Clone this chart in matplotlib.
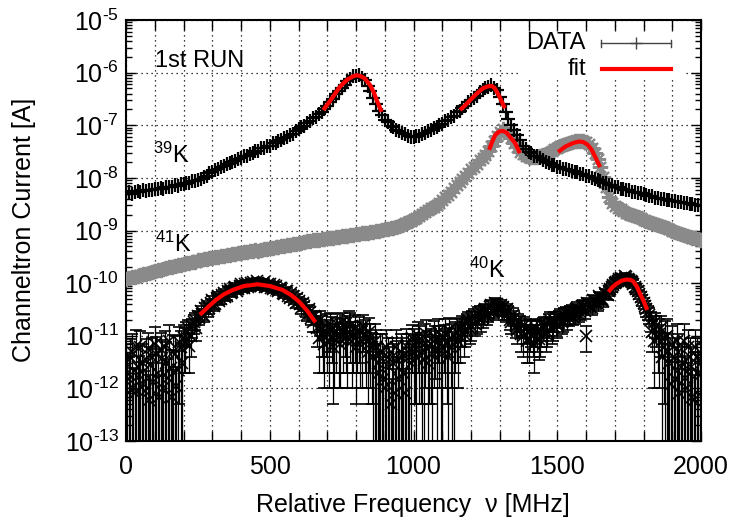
import math
import matplotlib
matplotlib.use('Agg')
import matplotlib.pyplot as plt
from matplotlib.ticker import MultipleLocator, LogLocator, NullFormatter, FuncFormatter
from matplotlib.patches import Rectangle

plt.rcParams['font.family'] = ['Liberation Sans', 'DejaVu Sans']
plt.rcParams['mathtext.fontset'] = 'custom'
plt.rcParams['mathtext.rm'] = 'Liberation Sans'
plt.rcParams['mathtext.it'] = 'Liberation Sans:italic'
plt.rcParams['mathtext.bf'] = 'Liberation Sans:bold'

# ---------------- data ----------------
freq = [0, 10, 20, 30, 40, 50, 60, 70, 80, 90,
        100, 110, 120, 130, 140, 150, 160, 170, 180, 190,
        200, 210, 220, 230, 240, 250, 260, 270, 280, 290,
        300, 310, 320, 330, 340, 350, 360, 370, 380, 390,
        400, 410, 420, 430, 440, 450, 460, 470, 480, 490,
        500, 510, 520, 530, 540, 550, 560, 570, 580, 590,
        600, 610, 620, 630, 640, 650, 660, 670, 680, 690,
        700, 710, 720, 730, 740, 750, 760, 770, 780, 790,
        800, 810, 820, 830, 840, 850, 860, 870, 880, 890,
        900, 910, 920, 930, 940, 950, 960, 970, 980, 990,
        1000, 1010, 1020, 1030, 1040, 1050, 1060, 1070, 1080, 1090,
        1100, 1110, 1120, 1130, 1140, 1150, 1160, 1170, 1180, 1190,
        1200, 1210, 1220, 1230, 1240, 1250, 1260, 1270, 1280, 1290,
        1300, 1310, 1320, 1330, 1340, 1350, 1360, 1370, 1380, 1390,
        1400, 1410, 1420, 1430, 1440, 1450, 1460, 1470, 1480, 1490,
        1500, 1510, 1520, 1530, 1540, 1550, 1560, 1570, 1580, 1590,
        1600, 1610, 1620, 1630, 1640, 1650, 1660, 1670, 1680, 1690,
        1700, 1710, 1720, 1730, 1740, 1750, 1760, 1770, 1780, 1790,
        1800, 1810, 1820, 1830, 1840, 1850, 1860, 1870, 1880, 1890,
        1900, 1910, 1920, 1930, 1940, 1950, 1960, 1970, 1980, 1990,
        2000]

k39 = [5.1e-9, 5.3e-9, 5.0e-9, 5.4e-9, 5.6e-9, 5.4e-9, 5.8e-9, 5.6e-9, 6.0e-9, 5.9e-9,
       6.1e-9, 6.1e-9, 6.4e-9, 6.2e-9, 6.6e-9, 6.7e-9, 6.8e-9, 7.2e-9, 7.1e-9, 7.5e-9,
       7.5e-9, 8.0e-9, 8.0e-9, 8.6e-9, 8.8e-9, 9.3e-9, 9.4e-9, 1.04e-8, 1.10e-8, 1.22e-8,
       1.27e-8, 1.40e-8, 1.46e-8, 1.61e-8, 1.67e-8, 1.85e-8, 1.89e-8, 2.04e-8, 2.10e-8, 2.28e-8,
       2.36e-8, 2.55e-8, 2.64e-8, 2.88e-8, 2.96e-8, 3.22e-8, 3.25e-8, 3.62e-8, 3.65e-8, 4.06e-8,
       4.10e-8, 4.55e-8, 4.60e-8, 5.10e-8, 5.28e-8, 5.85e-8, 5.93e-8, 6.58e-8, 6.95e-8, 7.90e-8,
       8.35e-8, 9.30e-8, 9.85e-8, 1.12e-7, 1.18e-7, 1.37e-7, 1.45e-7, 1.65e-7, 1.79e-7, 2.04e-7,
       2.30e-7, 2.80e-7, 3.18e-7, 3.87e-7, 4.40e-7, 5.20e-7, 5.80e-7, 6.85e-7, 7.45e-7, 8.45e-7,
       8.80e-7, 8.85e-7, 7.85e-7, 7.15e-7, 5.65e-7, 4.55e-7, 3.33e-7, 2.56e-7, 1.88e-7, 1.54e-7,
       1.24e-7, 1.14e-7, 9.85e-8, 9.45e-8, 8.20e-8, 7.70e-8, 6.98e-8, 6.70e-8, 6.22e-8, 6.10e-8,
       5.95e-8, 6.25e-8, 6.38e-8, 6.85e-8, 7.14e-8, 7.70e-8, 8.02e-8, 8.82e-8, 9.20e-8, 1.01e-7,
       1.06e-7, 1.19e-7, 1.27e-7, 1.43e-7, 1.53e-7, 1.76e-7, 1.89e-7, 2.17e-7, 2.37e-7, 2.73e-7,
       2.98e-7, 3.36e-7, 3.67e-7, 4.23e-7, 4.62e-7, 5.20e-7, 5.43e-7, 5.70e-7, 5.18e-7, 4.63e-7,
       3.50e-7, 2.55e-7, 1.80e-7, 1.34e-7, 9.90e-8, 8.05e-8, 6.52e-8, 5.32e-8, 4.12e-8, 3.60e-8,
       3.12e-8, 2.92e-8, 2.65e-8, 2.61e-8, 2.37e-8, 2.22e-8, 2.01e-8, 1.94e-8, 1.76e-8, 1.72e-8,
       1.60e-8, 1.60e-8, 1.49e-8, 1.47e-8, 1.39e-8, 1.37e-8, 1.27e-8, 1.28e-8, 1.18e-8, 1.17e-8,
       1.09e-8, 1.07e-8, 9.90e-9, 9.70e-9, 9.00e-9, 8.85e-9, 8.03e-9, 7.88e-9, 7.32e-9, 7.18e-9,
       6.68e-9, 6.70e-9, 6.24e-9, 6.26e-9, 5.82e-9, 5.84e-9, 5.44e-9, 5.45e-9, 5.07e-9, 5.08e-9,
       4.85e-9, 4.75e-9, 4.52e-9, 4.44e-9, 4.22e-9, 4.23e-9, 4.02e-9, 4.04e-9, 3.76e-9, 3.78e-9,
       3.59e-9, 3.60e-9, 3.43e-9, 3.44e-9, 3.27e-9, 3.29e-9, 3.13e-9, 3.14e-9, 2.99e-9, 2.99e-9,
       2.86e-9]

k41 = [1.20e-10, 1.24e-10, 1.28e-10, 1.33e-10, 1.37e-10, 1.42e-10, 1.47e-10, 1.52e-10, 1.57e-10, 1.63e-10,
       1.69e-10, 1.75e-10, 1.81e-10, 1.87e-10, 1.90e-10, 2.01e-10, 2.03e-10, 2.15e-10, 2.18e-10, 2.25e-10,
       2.33e-10, 2.41e-10, 2.44e-10, 2.52e-10, 2.56e-10, 2.70e-10, 2.74e-10, 2.83e-10, 2.87e-10, 2.96e-10,
       3.01e-10, 3.10e-10, 3.15e-10, 3.25e-10, 3.30e-10, 3.40e-10, 3.46e-10, 3.56e-10, 3.62e-10, 3.73e-10,
       3.79e-10, 3.90e-10, 3.88e-10, 3.99e-10, 4.06e-10, 4.18e-10, 4.16e-10, 4.28e-10, 4.36e-10, 4.48e-10,
       4.56e-10, 4.69e-10, 4.78e-10, 4.91e-10, 5.00e-10, 5.14e-10, 5.24e-10, 5.38e-10, 5.49e-10, 5.63e-10,
       5.74e-10, 5.90e-10, 6.02e-10, 6.18e-10, 6.30e-10, 6.47e-10, 6.60e-10, 6.71e-10, 6.75e-10, 6.93e-10,
       7.07e-10, 7.25e-10, 7.29e-10, 7.42e-10, 7.58e-10, 7.77e-10, 7.93e-10, 8.01e-10, 8.12e-10, 8.33e-10,
       8.50e-10, 8.72e-10, 8.79e-10, 8.92e-10, 9.11e-10, 9.34e-10, 9.54e-10, 9.78e-10, 9.99e-10, 1.02e-9,
       1.05e-9, 1.07e-9, 1.10e-9, 1.12e-9, 1.17e-9, 1.23e-9, 1.29e-9, 1.38e-9, 1.45e-9, 1.51e-9,
       1.62e-9, 1.74e-9, 1.91e-9, 2.09e-9, 2.24e-9, 2.40e-9, 2.63e-9, 2.82e-9, 3.09e-9, 3.39e-9,
       3.80e-9, 4.27e-9, 4.79e-9, 5.50e-9, 6.31e-9, 7.24e-9, 8.32e-9, 9.55e-9, 1.10e-8, 1.26e-8,
       1.45e-8, 1.62e-8, 1.86e-8, 2.14e-8, 2.40e-8, 2.75e-8, 3.24e-8, 3.98e-8, 5.01e-8, 6.31e-8,
       7.59e-8, 8.32e-8, 7.94e-8, 6.92e-8, 5.75e-8, 4.68e-8, 3.80e-8, 3.16e-8, 2.82e-8, 2.63e-8,
       2.51e-8, 2.45e-8, 2.45e-8, 2.51e-8, 2.57e-8, 2.69e-8, 2.82e-8, 3.02e-8, 3.24e-8, 3.47e-8,
       3.72e-8, 3.98e-8, 4.27e-8, 4.47e-8, 4.68e-8, 4.90e-8, 5.01e-8, 5.13e-8, 5.13e-8, 5.01e-8,
       4.79e-8, 4.37e-8, 3.72e-8, 3.02e-8, 2.29e-8, 1.58e-8, 1.05e-8, 6.61e-9, 4.37e-9, 3.31e-9,
       2.95e-9, 2.69e-9, 2.51e-9, 2.34e-9, 2.19e-9, 2.09e-9, 2.00e-9, 1.86e-9, 1.78e-9, 1.70e-9,
       1.58e-9, 1.51e-9, 1.45e-9, 1.38e-9, 1.32e-9, 1.26e-9, 1.20e-9, 1.15e-9, 1.10e-9, 1.05e-9,
       1.00e-9, 9.55e-10, 9.12e-10, 8.71e-10, 8.32e-10, 7.94e-10, 7.59e-10, 7.24e-10, 7.08e-10, 6.76e-10,
       6.61e-10]

k40 = [3.0e-12, 1.5e-12, 5.0e-12, 0.8e-12, 2.5e-12, 6.0e-12, 1.2e-12, 3.5e-12, 0.6e-12, 4.0e-12,
       7.0e-12, 2.0e-12, 5.5e-12, 1.0e-12, 3.0e-12, 8.0e-12, 0.7e-12, 4.5e-12, 2.2e-12, 6.0e-12,
       9.0e-12, 12e-12, 6.5e-12, 15e-12, 20e-12, 24e-12, 30e-12, 24e-12, 38e-12, 33e-12,
       48e-12, 40e-12, 58e-12, 50e-12, 66e-12, 58e-12, 78e-12, 68e-12, 86e-12, 76e-12,
       95e-12, 82e-12, 100e-12, 88e-12, 105e-12, 90e-12, 100e-12, 88e-12, 103e-12, 85e-12,
       95e-12, 78e-12, 90e-12, 70e-12, 80e-12, 62e-12, 70e-12, 52e-12, 58e-12, 42e-12,
       46e-12, 33e-12, 36e-12, 25e-12, 28e-12, 18e-12, 20e-12, 9e-12, 14e-12, 7e-12,
       11e-12, 16e-12, 6e-12, 12e-12, 9e-12, 18e-12, 14e-12, 8e-12, 15e-12, 10e-12,
       6e-12, 13e-12, 8e-12, 11e-12, 5e-12, 9e-12, 4e-12, 6e-12, 2e-12, 5e-12,
       1.0e-12, 4e-12, 0.5e-12, 3e-12, 6e-12, 1.5e-12, 4e-12, 0.8e-12, 5e-12, 3e-12,
       7e-12, 4e-12, 8e-12, 5e-12, 9e-12, 3e-12, 7e-12, 10e-12, 5e-12, 8e-12,
       6e-12, 11e-12, 4e-12, 9e-12, 7e-12, 12e-12, 10e-12, 16e-12, 13e-12, 20e-12,
       15e-12, 24e-12, 18e-12, 28e-12, 22e-12, 32e-12, 26e-12, 38e-12, 30e-12, 40e-12,
       32e-12, 35e-12, 25e-12, 28e-12, 18e-12, 22e-12, 13e-12, 17e-12, 10e-12, 14e-12,
       9e-12, 13e-12, 7e-12, 12e-12, 10e-12, 15e-12, 11e-12, 18e-12, 14e-12, 20e-12,
       16e-12, 24e-12, 19e-12, 27e-12, 22e-12, 30e-12, 25e-12, 34e-12, 28e-12, 37e-12,
       10e-12, 40e-12, 34e-12, 46e-12, 40e-12, 52e-12, 46e-12, 62e-12, 70e-12, 85e-12,
       100e-12, 110e-12, 125e-12, 118e-12, 130e-12, 115e-12, 105e-12, 85e-12, 70e-12, 55e-12,
       42e-12, 32e-12, 25e-12, 12e-12, 18e-12, 9e-12, 14e-12, 6e-12, 10e-12, 3e-12,
       7e-12, 1.5e-12, 5e-12, 2.5e-12, 8e-12, 1.0e-12, 4e-12, 0.7e-12, 6e-12, 2e-12,
       3e-12]

k40_err = [4.0e-12, 2.5e-12, 6.0e-12, 1.5e-12, 4.0e-12, 6.5e-12, 2.0e-12, 5.0e-12, 1.2e-12, 5.0e-12,
           7.5e-12, 3.5e-12, 6.0e-12, 2.0e-12, 4.5e-12, 8.0e-12, 1.5e-12, 5.5e-12, 3.0e-12, 6.5e-12,
           7.0e-12, 6.0e-12, 4.5e-12, 6.0e-12, 7.0e-12, 6.0e-12, 7e-12, 6e-12, 8e-12, 7e-12,
           9e-12, 8e-12, 10e-12, 9e-12, 11e-12, 10e-12, 12e-12, 11e-12, 13e-12, 12e-12,
           14e-12, 13e-12, 15e-12, 13e-12, 15e-12, 14e-12, 15e-12, 13e-12, 15e-12, 13e-12,
           14e-12, 12e-12, 14e-12, 11e-12, 12e-12, 10e-12, 11e-12, 9e-12, 10e-12, 8e-12,
           8e-12, 7e-12, 7e-12, 6e-12, 7e-12, 6e-12, 8e-12, 7e-12, 10e-12, 6e-12,
           9e-12, 11e-12, 5.5e-12, 10e-12, 8e-12, 9e-12, 10e-12, 7e-12, 12e-12, 8e-12,
           5.5e-12, 10e-12, 7e-12, 9e-12, 4.5e-12, 8e-12, 5e-12, 7e-12, 3e-12, 6e-12,
           2e-12, 5e-12, 1e-12, 4e-12, 7e-12, 2.5e-12, 5e-12, 1.5e-12, 6e-12, 4e-12,
           6.5e-12, 5e-12, 7.5e-12, 5.5e-12, 8e-12, 3.5e-12, 6.5e-12, 9e-12, 5e-12, 7e-12,
           6.5e-12, 10e-12, 4.5e-12, 8e-12, 7e-12, 9e-12, 7e-12, 8e-12, 7e-12, 8e-12,
           7e-12, 8e-12, 7e-12, 9e-12, 8e-12, 9e-12, 8e-12, 10e-12, 8e-12, 10e-12,
           8e-12, 9e-12, 7e-12, 8e-12, 7e-12, 7e-12, 6e-12, 7e-12, 6e-12, 7e-12,
           6e-12, 7e-12, 5e-12, 7e-12, 6e-12, 7e-12, 6e-12, 8e-12, 7e-12, 8e-12,
           7e-12, 8e-12, 7e-12, 8e-12, 7e-12, 9e-12, 8e-12, 9e-12, 8e-12, 10e-12,
           5e-12, 10e-12, 9e-12, 11e-12, 10e-12, 12e-12, 11e-12, 13e-12, 14e-12, 16e-12,
           18e-12, 20e-12, 22e-12, 20e-12, 22e-12, 20e-12, 18e-12, 16e-12, 14e-12, 12e-12,
           10e-12, 9e-12, 8e-12, 7e-12, 9e-12, 7e-12, 10e-12, 5.5e-12, 11e-12, 4e-12,
           8e-12, 2.5e-12, 6e-12, 3.5e-12, 9e-12, 2e-12, 5e-12, 1.5e-12, 7e-12, 3e-12,
           4e-12]

# second (interleaved) 40K scan points
freq_b = [5, 15, 25, 35, 45, 55, 65, 75, 85, 95,
          105, 115, 125, 135, 145, 155, 165, 175, 185, 195,
          205, 215, 225, 235, 245, 255, 265, 275, 285, 295,
          305, 315, 325, 335, 345, 355, 365, 375, 385, 395,
          405, 415, 425, 435, 445, 455, 465, 475, 485, 495,
          505, 515, 525, 535, 545, 555, 565, 575, 585, 595,
          605, 615, 625, 635, 645, 655, 665, 675, 685, 695,
          705, 715, 725, 735, 745, 755, 765, 775, 785, 795,
          805, 815, 825, 835, 845, 855, 865, 875, 885, 895,
          905, 915, 925, 935, 945, 955, 965, 975, 985, 995,
          1005, 1015, 1025, 1035, 1045, 1055, 1065, 1075, 1085, 1095,
          1105, 1115, 1125, 1135, 1145, 1155, 1165, 1175, 1185, 1195,
          1205, 1215, 1225, 1235, 1245, 1255, 1265, 1275, 1285, 1295,
          1305, 1315, 1325, 1335, 1345, 1355, 1365, 1375, 1385, 1395,
          1405, 1415, 1425, 1435, 1445, 1455, 1465, 1475, 1485, 1495,
          1505, 1515, 1525, 1535, 1545, 1555, 1565, 1575, 1585, 1595,
          1605, 1615, 1625, 1635, 1645, 1655, 1665, 1675, 1685, 1695,
          1705, 1715, 1725, 1735, 1745, 1755, 1765, 1775, 1785, 1795,
          1805, 1815, 1825, 1835, 1845, 1855, 1865, 1875, 1885, 1895,
          1905, 1915, 1925, 1935, 1945, 1955, 1965, 1975, 1985, 1995]

k40_b = [2.0e-12, 4.0e-12, 1.0e-12, 6.5e-12, 1.8e-12, 3.2e-12, 0.9e-12, 5.5e-12, 2.8e-12, 1.3e-12,
         4.5e-12, 0.7e-12, 3.8e-12, 6.0e-12, 1.6e-12, 2.4e-12, 5.0e-12, 1.1e-12, 7.5e-12, 3.0e-12,
         8e-12, 14e-12, 10e-12, 18e-12, 14e-12, 22e-12, 26e-12, 34e-12, 30e-12, 42e-12,
         36e-12, 52e-12, 46e-12, 60e-12, 54e-12, 72e-12, 64e-12, 82e-12, 72e-12, 90e-12,
         80e-12, 96e-12, 84e-12, 102e-12, 92e-12, 108e-12, 92e-12, 100e-12, 86e-12, 98e-12,
         82e-12, 92e-12, 76e-12, 82e-12, 66e-12, 72e-12, 58e-12, 64e-12, 48e-12, 52e-12,
         40e-12, 42e-12, 30e-12, 32e-12, 22e-12, 24e-12, 14e-12, 20e-12, 10e-12, 15e-12,
         8e-12, 13e-12, 9e-12, 17e-12, 7e-12, 12e-12, 10e-12, 20e-12, 8e-12, 14e-12,
         10e-12, 7e-12, 15e-12, 9e-12, 12e-12, 6e-12, 8e-12, 3e-12, 5e-12, 1.5e-12,
         6e-12, 2.5e-12, 4e-12, 0.8e-12, 3.5e-12, 5e-12, 2e-12, 6.5e-12, 4e-12, 9e-12,
         5.5e-12, 10e-12, 6e-12, 3.5e-12, 11e-12, 6.5e-12, 4.5e-12, 8.5e-12, 12e-12, 5e-12,
         9e-12, 7e-12, 13e-12, 6e-12, 10e-12, 8e-12, 14e-12, 11e-12, 18e-12, 14e-12,
         22e-12, 17e-12, 26e-12, 20e-12, 30e-12, 24e-12, 35e-12, 28e-12, 42e-12, 34e-12,
         38e-12, 28e-12, 32e-12, 20e-12, 25e-12, 15e-12, 19e-12, 11e-12, 16e-12, 8e-12,
         12e-12, 10e-12, 14e-12, 8.5e-12, 13e-12, 16e-12, 12e-12, 20e-12, 15e-12, 18e-12,
         22e-12, 18e-12, 25e-12, 20e-12, 28e-12, 23e-12, 32e-12, 26e-12, 36e-12, 30e-12,
         42e-12, 36e-12, 48e-12, 42e-12, 56e-12, 50e-12, 66e-12, 60e-12, 78e-12, 92e-12,
         105e-12, 120e-12, 112e-12, 135e-12, 122e-12, 110e-12, 98e-12, 78e-12, 62e-12, 48e-12,
         36e-12, 28e-12, 20e-12, 8e-12, 15e-12, 11e-12, 4e-12, 9e-12, 5e-12, 1.2e-12,
         4e-12, 8e-12, 0.8e-12, 3e-12, 1.6e-12, 6e-12, 2.5e-12, 0.6e-12, 4e-12, 1.8e-12]

k40_b_err = [2.6e-12, 4.5e-12, 1.4e-12, 6.5e-12, 2.3e-12, 3.8e-12, 1.2e-12, 6.0e-12, 3.3e-12, 1.8e-12,
             5.0e-12, 1.0e-12, 4.5e-12, 6.5e-12, 2.0e-12, 3.0e-12, 5.5e-12, 1.5e-12, 7.0e-12, 3.5e-12,
             6e-12, 6e-12, 6e-12, 7e-12, 6e-12, 6e-12, 6e-12, 8e-12, 7e-12, 8e-12,
             7e-12, 9e-12, 8e-12, 10e-12, 9e-12, 11e-12, 10e-12, 12e-12, 11e-12, 13e-12,
             12e-12, 14e-12, 12e-12, 15e-12, 13e-12, 15e-12, 13e-12, 14e-12, 13e-12, 14e-12,
             12e-12, 13e-12, 11e-12, 12e-12, 10e-12, 11e-12, 9e-12, 10e-12, 8e-12, 9e-12,
             8e-12, 8e-12, 7e-12, 7e-12, 6e-12, 6e-12, 8e-12, 10e-12, 8e-12, 11e-12,
             7e-12, 10e-12, 8e-12, 9e-12, 6e-12, 10e-12, 8e-12, 10e-12, 7e-12, 11e-12,
             8e-12, 6e-12, 10e-12, 8e-12, 10e-12, 5.5e-12, 9e-12, 4e-12, 6e-12, 2.5e-12,
             7e-12, 3.5e-12, 5e-12, 1.5e-12, 4.5e-12, 6e-12, 3e-12, 7e-12, 4e-12, 7e-12,
             5e-12, 8e-12, 5.5e-12, 4e-12, 9e-12, 6e-12, 5e-12, 7e-12, 9e-12, 5e-12,
             7e-12, 6.5e-12, 9e-12, 6e-12, 8e-12, 7e-12, 8e-12, 7e-12, 8e-12, 7e-12,
             8e-12, 7e-12, 9e-12, 8e-12, 9e-12, 8e-12, 10e-12, 8e-12, 10e-12, 9e-12,
             10e-12, 8e-12, 9e-12, 7e-12, 8e-12, 6e-12, 7e-12, 6e-12, 7e-12, 5e-12,
             7e-12, 6e-12, 7e-12, 5e-12, 7e-12, 7e-12, 6e-12, 8e-12, 7e-12, 8e-12,
             8e-12, 7e-12, 8e-12, 7e-12, 8e-12, 7e-12, 9e-12, 8e-12, 10e-12, 9e-12,
             10e-12, 9e-12, 11e-12, 10e-12, 12e-12, 11e-12, 13e-12, 12e-12, 15e-12, 16e-12,
             18e-12, 20e-12, 20e-12, 22e-12, 20e-12, 18e-12, 17e-12, 15e-12, 13e-12, 11e-12,
             9e-12, 8e-12, 8e-12, 7e-12, 9e-12, 10e-12, 4.5e-12, 10e-12, 6e-12, 2e-12,
             5e-12, 9e-12, 1.5e-12, 4e-12, 2.5e-12, 7e-12, 3.5e-12, 1.2e-12, 5e-12, 2.5e-12]

# fit curves (frequency, current)
fit39a_f = [686, 710, 744, 770, 790, 802, 815, 830, 849, 862, 872, 889]
fit39a_y = [1.95e-7, 2.9e-7, 5.4e-7, 7.4e-7, 8.5e-7, 8.9e-7, 8.6e-7, 7.8e-7, 5.8e-7, 4.2e-7, 3.0e-7, 1.8e-7]
fit39b_f = [1162, 1180, 1197, 1220, 1243, 1260, 1272, 1282, 1290, 1300, 1307, 1318]
fit39b_y = [1.95e-7, 2.4e-7, 3.0e-7, 4.0e-7, 5.1e-7, 5.5e-7, 5.6e-7, 5.1e-7, 4.3e-7, 3.4e-7, 2.8e-7, 2.1e-7]
fit41a_f = [1263, 1272, 1284, 1298, 1311, 1324, 1336, 1353, 1370]
fit41a_y = [3.4e-8, 4.6e-8, 6.5e-8, 7.6e-8, 7.8e-8, 7.2e-8, 6.0e-8, 4.6e-8, 2.95e-8]
fit41b_f = [1503, 1527, 1555, 1575, 1590, 1605, 1620, 1637, 1649]
fit41b_y = [3.1e-8, 3.9e-8, 4.6e-8, 4.9e-8, 4.8e-8, 4.3e-8, 3.4e-8, 2.2e-8, 1.6e-8]
fit40a_f = [257, 285, 313, 340, 371, 410, 458, 500, 545, 575, 603, 630, 659]
fit40a_y = [2.5e-11, 3.5e-11, 4.8e-11, 6.1e-11, 7.4e-11, 8.8e-11, 9.5e-11, 8.8e-11, 7.4e-11, 5.9e-11, 4.4e-11, 3.0e-11, 1.8e-11]
fit40b_f = [1678, 1692, 1707, 1725, 1741, 1755, 1764, 1777, 1788, 1800, 1813]
fit40b_y = [6.8e-11, 8.4e-11, 9.8e-11, 1.12e-10, 1.17e-10, 1.15e-10, 1.08e-10, 8.6e-11, 6.3e-11, 4.6e-11, 3.1e-11]

# ---------------- figure ----------------
W, H = 733, 522
fig = plt.figure(figsize=(W / 100, H / 100), dpi=100)
L, R, T, B = 126, 701, 20, 441
ax = fig.add_axes([L / W, 1 - B / H, (R - L) / W, (B - T) / H])
ax.set_yscale('log')
ax.set_xlim(0, 2000)
ax.set_ylim(1e-13, 1e-5)
ax.set_axisbelow(True)

GRAY = '#8a8a8a'
ax.plot(freq, k41, linestyle='none', marker=(8, 2, 0), ms=11, mew=1.5,
        color=GRAY, zorder=3)
ax.plot(freq, k39, linestyle='none', marker='+', ms=10, mew=1.6,
        color='black', zorder=4)
ax.errorbar(freq + freq_b, k40 + k40_b, yerr=k40_err + k40_b_err, fmt='x', ms=9, mew=1.2,
            color='black', ecolor='black', elinewidth=0.9, capsize=4.5, capthick=0.9, zorder=5)

for fx, fy in [(fit39a_f, fit39a_y), (fit39b_f, fit39b_y), (fit41a_f, fit41a_y),
               (fit41b_f, fit41b_y), (fit40a_f, fit40a_y), (fit40b_f, fit40b_y)]:
    ax.plot(fx, fy, color='red', lw=3.0, zorder=6, solid_capstyle='butt')

# grid & ticks
ax.xaxis.set_major_locator(MultipleLocator(100))
ax.xaxis.set_major_formatter(FuncFormatter(lambda v, p: '%d' % v if int(round(v)) % 500 == 0 else ''))
ax.yaxis.set_major_locator(LogLocator(base=10, numticks=20))
ax.yaxis.set_minor_locator(LogLocator(base=10, subs=[2, 3, 4, 5, 6, 7, 8, 9], numticks=20))
ax.yaxis.set_minor_formatter(NullFormatter())
ax.yaxis.set_major_formatter(FuncFormatter(
    lambda v, p: r'10$^{\text{-%d}}$' % int(round(-math.log10(v)))))
ax.grid(True, which='major', linestyle=(0, (1, 3)), color='black', lw=0.9)
ax.tick_params(which='both', direction='in', top=True, right=True, width=1.0,
               labelsize=18, colors='black')
ax.tick_params(which='major', length=7.5)
ax.tick_params(which='minor', length=4)
ax.tick_params(axis='x', pad=10)
ax.tick_params(axis='y', pad=5)
for s in ax.spines.values():
    s.set_linewidth(1.5)

# key box (opaque)
def fx_(px):
    return (px - L) / (R - L)

def fy_(py):
    return (B - py) / (B - T)

ax.add_patch(Rectangle((fx_(520), fy_(80)), fx_(686) - fx_(520), fy_(32) - fy_(80),
                       transform=ax.transAxes, facecolor='white', edgecolor='none', zorder=1.5))
ax.text(fx_(586), fy_(43), 'DATA', transform=ax.transAxes, ha='right', va='center', fontsize=17, zorder=7)
ax.text(fx_(586), fy_(69), 'fit', transform=ax.transAxes, ha='right', va='center', fontsize=17, zorder=7)
ax.plot([fx_(601), fx_(671)], [fy_(43), fy_(43)], transform=ax.transAxes, color='#444444', lw=1, zorder=7)
ax.plot([fx_(601), fx_(601)], [fy_(39.5), fy_(46.5)], transform=ax.transAxes, color='#444444', lw=1, zorder=7)
ax.plot([fx_(671), fx_(671)], [fy_(39.5), fy_(46.5)], transform=ax.transAxes, color='#444444', lw=1, zorder=7)
ax.plot([fx_(636)], [fy_(43)], transform=ax.transAxes, marker='+', ms=8, mew=1, color='#444444', zorder=7)
ax.plot([fx_(602), fx_(671)], [fy_(69), fy_(69)], transform=ax.transAxes, color='red', lw=3.0, zorder=7)

# annotations
ax.text(fx_(155), fy_(67), '1st RUN', transform=ax.transAxes, ha='left', va='baseline', fontsize=17)
ax.text(fx_(153), fy_(163), r'$^{39}$K', transform=ax.transAxes, ha='left', va='baseline', fontsize=17)
ax.text(fx_(155), fy_(252), r'$^{41}$K', transform=ax.transAxes, ha='left', va='baseline', fontsize=17)
ax.text(fx_(469), fy_(278), r'$^{40}$K', transform=ax.transAxes, ha='left', va='baseline', fontsize=17)

ax.set_xlabel('Relative Frequency  \u03bd [MHz]', fontsize=18)
ax.set_ylabel('Channeltron Current [A]', fontsize=18)
ax.xaxis.label.set_va('center')
ax.yaxis.label.set_va('center')
ax.xaxis.set_label_coords(fx_(413), fy_(505))
ax.yaxis.set_label_coords(fx_(24), fy_(230))

fig.savefig('out.png', dpi=100)
